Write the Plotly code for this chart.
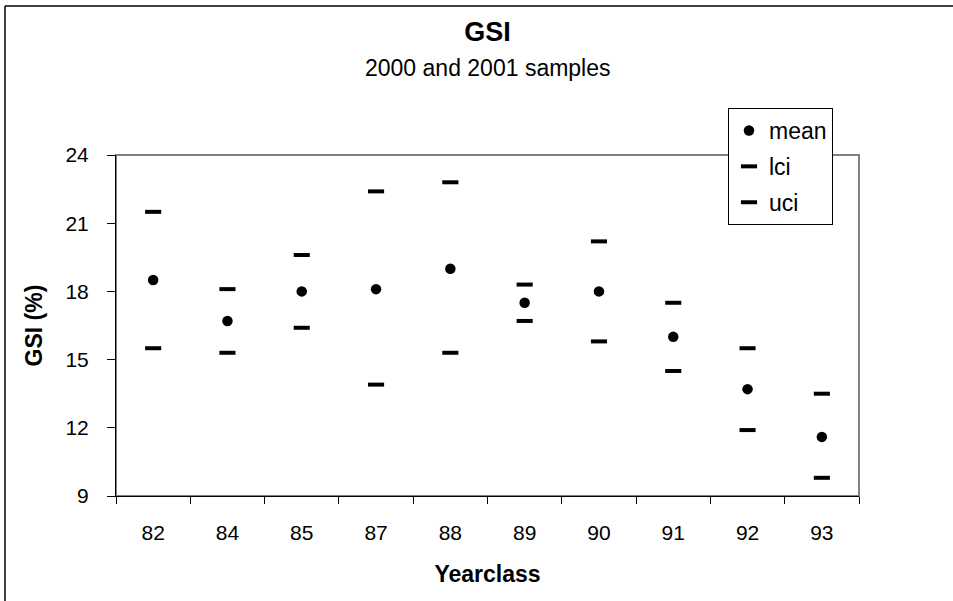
import plotly.graph_objects as go

yearclass = ["82", "84", "85", "87", "88", "89", "90", "91", "92", "93"]
mean = [18.5, 16.7, 18.0, 18.1, 19.0, 17.5, 18.0, 16.0, 13.7, 11.6]
lci = [15.5, 15.3, 16.4, 13.9, 15.3, 16.7, 15.8, 14.5, 11.9, 9.8]
uci = [21.5, 18.1, 19.6, 22.4, 22.8, 18.3, 20.2, 17.5, 15.5, 13.5]
y_ticks = [9, 12, 15, 18, 21, 24]

FONT = "Liberation Sans, Arial, sans-serif"

fig = go.Figure()
fig.add_trace(go.Scatter(x=yearclass, y=mean, mode="markers", name="mean",
                         legendgroup="g1",
                         marker=dict(symbol="circle", size=10.5, color="black")))
fig.add_trace(go.Scatter(x=yearclass, y=lci, mode="markers", name="lci",
                         legendgroup="g2",
                         marker=dict(symbol="line-ew", size=11.5, color="black",
                                     line=dict(width=4, color="black"))))
fig.add_trace(go.Scatter(x=yearclass, y=uci, mode="markers", name="uci",
                         legendgroup="g3",
                         marker=dict(symbol="line-ew", size=11.5, color="black",
                                     line=dict(width=4, color="black"))))

L, R, T, B = 116, 953 - 859, 155, 601 - 496
W, H = 953, 601
pw, ph = W - L - R, H - T - B

def px_x(p):
    return (p - L) / pw

def px_y(p):
    return (H - B - p) / ph

fig.update_layout(
    width=W, height=H,
    margin=dict(l=L, r=R, t=T, b=B, pad=0),
    paper_bgcolor="white", plot_bgcolor="white",
    font=dict(family=FONT, color="black", size=21),
    title=dict(text="<b>GSI</b>", x=0.5, xanchor="center", xref="paper",
               y=1 - 32 / H, yanchor="middle",
               font=dict(size=27, family=FONT, color="black")),
    showlegend=True,
    legend=dict(x=px_x(728), y=px_y(108), xanchor="left", yanchor="top",
                xref="paper", yref="paper",
                bgcolor="white", bordercolor="black", borderwidth=1,
                font=dict(size=23, family=FONT, color="black"),
                itemsizing="trace", tracegroupgap=3),
    xaxis=dict(type="category", range=[-0.5, len(yearclass) - 0.5],
               showline=True, linecolor="black", linewidth=1,
               ticks="outside", ticklen=7, tickcolor="black", tickson="boundaries",
               showgrid=False, zeroline=False, mirror=False,
               ticklabelstandoff=18,
               title=dict(text="<b>Yearclass</b>", standoff=22,
                          font=dict(size=23, family=FONT))),
    yaxis=dict(range=[9, 24], tickvals=y_ticks, showline=True, linecolor="black",
               linewidth=1, ticks="outside", ticklen=8, tickcolor="black",
               showgrid=False, zeroline=False, ticklabelstandoff=14,
               title=dict(text="<b>GSI (%)</b>", standoff=16,
                          font=dict(size=23, family=FONT))),
    annotations=[dict(text="2000 and 2001 samples", x=0.5, xref="paper",
                      y=px_y(68), yref="paper", xanchor="center", yanchor="middle",
                      showarrow=False, font=dict(size=23, family=FONT))],
    shapes=[
        dict(type="rect", xref="x domain", yref="y domain", x0=0, x1=1, y0=0, y1=1,
             line=dict(color="#808080", width=2), layer="below"),
        dict(type="line", xref="paper", yref="paper", x0=px_x(5), x1=px_x(5),
             y0=px_y(700), y1=px_y(6), line=dict(color="black", width=1.5)),
        dict(type="line", xref="paper", yref="paper", x0=px_x(5), x1=px_x(1100),
             y0=px_y(6), y1=px_y(6), line=dict(color="black", width=1.5)),
    ],
)

fig.write_html("out.html")
